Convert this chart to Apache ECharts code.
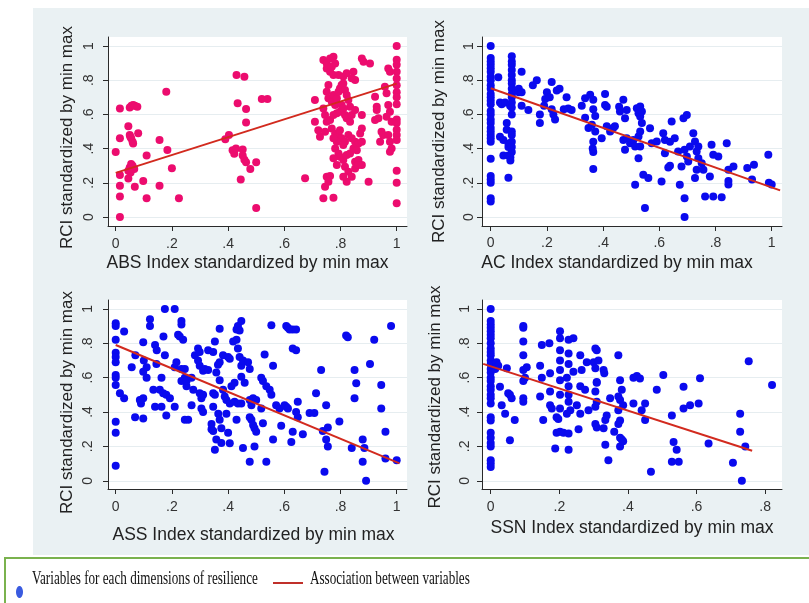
<!DOCTYPE html>
<html><head><meta charset="utf-8">
<script src="https://cdn.jsdelivr.net/npm/echarts@6/dist/echarts.min.js"></script>
<style>html,body{margin:0;padding:0;background:#fff}#c{width:809px;height:603px}</style>
</head><body><div id="c"></div>
<script>
const tickValues = [0, 0.2, 0.4, 0.6, 0.8, 1];
const tickLabels = ['0', '.2', '.4', '.6', '.8', '1'];
const ssnTickValues = [0, 0.2, 0.4, 0.6, 0.8];
const yAxisTitle = 'RCI standardized by min max';
const xTitles = ['ABS Index standardized by min max', 'AC Index standardized by min max',
  'ASS Index standardized by min max', 'SSN Index standardized by min max'];
const legendLabels = ['Variables for each dimensions of resilience', 'Association between variables'];

const absPoints = [
[0,0.38],[0.015,0.635],[0.015,0.46],[0.015,0.245],[0.015,0.183],[0.015,0.12],[0.015,0.0],
[0.045,0.53],[0.05,0.48],[0.055,0.46],[0.06,0.44],[0.062,0.43],[0.052,0.47],[0.08,0.49],
[0.05,0.64],[0.056,0.65],[0.062,0.655],[0.068,0.65],[0.077,0.645],
[0.045,0.27],[0.05,0.29],[0.055,0.31],[0.06,0.3],[0.066,0.28],[0.053,0.26],
[0.045,0.225],[0.068,0.177],[0.098,0.21],[0.11,0.36],[0.11,0.11],[0.156,0.45],[0.156,0.183],[0.18,0.733],[0.184,0.392],[0.2,0.285],[0.225,0.109],
[0.39,0.455],[0.403,0.48],[0.43,0.83],[0.458,0.82],[0.434,0.665],[0.464,0.632],[0.464,0.553],
[0.416,0.39],[0.422,0.37],[0.428,0.4],[0.452,0.395],[0.452,0.36],[0.458,0.335],[0.464,0.32],[0.445,0.22],[0.479,0.28],[0.5,0.32],[0.5,0.053],[0.52,0.69],[0.54,0.69],
[0.739,0.918],[0.751,0.898],[0.763,0.927],[0.775,0.937],[0.781,0.898],[0.751,0.869],[0.763,0.85],[0.775,0.83],[0.769,0.879],
[0.793,0.83],[0.81,0.821],[0.822,0.84],[0.846,0.85],[0.852,0.801],[0.84,0.811],
[0.757,0.772],[0.751,0.733],[0.757,0.694],[0.769,0.674],[0.781,0.655],[0.775,0.713],[0.787,0.694],[0.793,0.733],[0.798,0.752],[0.804,0.772],[0.81,0.781],[0.816,0.743],[0.822,0.713],[0.828,0.684],[0.834,0.645],
[0.739,0.635],[0.745,0.596],[0.751,0.557],[0.763,0.567],[0.775,0.596],[0.787,0.606],[0.798,0.616],[0.804,0.655],[0.81,0.635],[0.816,0.596],[0.822,0.577],[0.834,0.557],[0.84,0.596],[0.852,0.626],
[0.769,0.518],[0.781,0.489],[0.793,0.479],[0.798,0.508],[0.804,0.46],[0.816,0.44],[0.828,0.479],[0.84,0.46],[0.852,0.44],[0.864,0.43],[0.876,0.44],[0.81,0.421],[0.787,0.44],[0.775,0.46],
[0.781,0.401],[0.793,0.372],[0.798,0.352],[0.81,0.333],[0.822,0.362],[0.834,0.372],[0.846,0.401],[0.858,0.391],[0.852,0.323],[0.864,0.333],[0.876,0.304],
[0.775,0.343],[0.787,0.304],[0.816,0.294],[0.828,0.265],[0.84,0.236],[0.822,0.206],[0.81,0.236],[0.852,0.284],[0.864,0.304],
[0.751,0.236],[0.763,0.24],[0.745,0.177],[0.757,0.206],[0.739,0.109],[0.775,0.113],[0.674,0.226],
[0.709,0.684],[0.709,0.557],[0.727,0.469],[0.721,0.508],[0.745,0.499],
[0.876,0.927],[0.882,0.908],[0.905,0.898],[0.876,0.596],[0.876,0.518],[0.87,0.489],[0.9,0.206],
[0.923,0.703],[0.929,0.645],[0.935,0.577],[0.923,0.567],[0.929,0.625],[0.941,0.44],[0.946,0.499],[0.952,0.479],
[0.958,0.762],[0.964,0.723],[0.97,0.655],[0.976,0.616],[0.982,0.557],[0.964,0.586],[0.97,0.869],[0.976,0.85],
[0.97,0.479],[0.976,0.44],[0.982,0.401],[0.976,0.382],
[1,1.0],[1,0.92],[1,0.89],[1,0.85],[1,0.81],[1,0.77],[1,0.73],[1,0.7],[1,0.66],[1,0.57],[1,0.55],[1,0.51],[1,0.48],[1,0.45],[1,0.27],[1,0.2],[1,0.08]
];

const acPoints = [
[0,1.0],[0,0.93],[0,0.91],[0,0.89],[0,0.87],[0,0.85],[0,0.82],[0,0.8],[0,0.77],[0,0.75],[0,0.72],[0,0.7],[0,0.68],[0,0.66],[0,0.62],[0,0.6],[0,0.57],[0,0.55],[0,0.52],[0,0.5],[0,0.48],[0,0.46],[0,0.44],[0,0.34],[0,0.24],[0,0.22],[0,0.2],[0,0.11],[0,0.09],
[0.027,0.817],[0.033,0.67],[0.039,0.66],[0.051,0.67],[0.033,0.47],[0.045,0.45],[0.045,0.36],[0.057,0.51],[0.057,0.55],[0.063,0.43],[0.063,0.41],[0.063,0.36],[0.069,0.43],[0.063,0.23],[0.069,0.65],
[0.075,0.94],[0.075,0.91],[0.075,0.89],[0.075,0.86],[0.075,0.83],[0.075,0.8],[0.075,0.78],[0.075,0.75],[0.075,0.72],[0.075,0.7],[0.075,0.67],[0.075,0.64],[0.075,0.6],[0.075,0.5],[0.075,0.48],[0.075,0.44],[0.075,0.41],[0.075,0.38],[0.07,0.35],[0.07,0.33],
[0.09,0.74],[0.1,0.75],[0.1,0.73],[0.11,0.85],[0.11,0.65],[0.11,0.73],[0.134,0.626],[0.15,0.77],[0.164,0.8],[0.175,0.55],[0.175,0.6],[0.19,0.65],[0.194,0.69],[0.2,0.73],[0.21,0.7],[0.217,0.79],[0.217,0.63],[0.223,0.6],[0.229,0.57],[0.235,0.74],[0.245,0.75],[0.26,0.63],[0.27,0.7],[0.276,0.635],[0.288,0.626],
[0.324,0.65],[0.336,0.695],[0.354,0.715],[0.336,0.58],[0.348,0.52],[0.36,0.54],[0.372,0.5],[0.365,0.63],[0.372,0.59],[0.365,0.685],[0.365,0.38],[0.363,0.4],[0.365,0.28],[0.365,0.44],[0.395,0.46],
[0.407,0.72],[0.413,0.645],[0.407,0.655],[0.413,0.53],[0.425,0.5],[0.436,0.52],[0.442,0.53],[0.457,0.645],[0.46,0.617],[0.472,0.685],[0.478,0.578],[0.484,0.626],[0.478,0.393],[0.472,0.451],[0.484,0.461],[0.496,0.432],[0.508,0.451],[0.514,0.412],[0.514,0.189],
[0.52,0.636],[0.526,0.607],[0.532,0.588],[0.538,0.549],[0.532,0.646],[0.538,0.617],[0.526,0.344],[0.526,0.471],[0.532,0.5],[0.532,0.412],[0.543,0.247],[0.561,0.228],[0.549,0.053],[0.567,0.519],[0.573,0.432],[0.591,0.442],
[0.608,0.208],[0.614,0.49],[0.62,0.451],[0.62,0.373],[0.632,0.29],[0.638,0.3],[0.638,0.44],[0.644,0.558],[0.655,0.461],[0.667,0.383],[0.673,0.189],[0.679,0.296],[0.686,0.578],[0.698,0.597],[0.69,0.11],[0.69,0.0],[0.69,0.393],[0.698,0.354],[0.703,0.325],[0.709,0.412],
[0.721,0.49],[0.727,0.442],[0.727,0.228],[0.733,0.276],[0.739,0.344],[0.733,0.383],[0.739,0.412],[0.751,0.315],[0.757,0.276],[0.763,0.12],[0.78,0.237],[0.786,0.422],[0.792,0.12],[0.792,0.364],[0.81,0.354],[0.822,0.115],
[0.84,0.432],[0.846,0.21],[0.846,0.19],[0.846,0.276],[0.864,0.296],[0.913,0.286],[0.937,0.305],[0.93,0.22],[0.988,0.364],[0.99,0.2],[1.0,0.19]
];

const assPoints = [
[0,0.917],[0,0.9],[0,0.82],[0,0.745],[0,0.72],[0,0.69],[0,0.615],[0,0.6],[0,0.557],[0,0.344],[0,0.28],[0,0.087],
[0.03,0.868],[0.015,0.51],[0.03,0.48],[0.057,0.66],[0.069,0.37],[0.07,0.73],[0.098,0.806],[0.098,0.363],
[0.09,0.45],[0.098,0.48],[0.086,0.47],[0.1,0.7],[0.11,0.66],[0.098,0.635],[0.11,0.6],
[0.122,0.94],[0.122,0.9],[0.134,0.53],[0.14,0.43],[0.14,0.79],[0.146,0.76],[0.145,0.68],
[0.157,0.53],[0.169,0.51],[0.163,0.43],[0.163,0.6],[0.17,0.84],[0.175,0.73],[0.175,1.0],[0.18,0.5],[0.18,0.38],[0.193,0.48],
[0.21,1.0],[0.21,0.66],[0.216,0.69],[0.21,0.43],[0.222,0.85],[0.228,0.84],[0.234,0.93],[0.234,0.91],
[0.234,0.65],[0.246,0.6],[0.246,0.65],[0.234,0.58],[0.252,0.55],[0.252,0.58],[0.24,0.82],[0.246,0.355],[0.258,0.355],
[0.27,0.6],[0.276,0.53],[0.27,0.44],[0.282,0.73],[0.293,0.77],[0.299,0.75],[0.293,0.7],[0.299,0.67],
[0.299,0.51],[0.305,0.48],[0.311,0.5],[0.305,0.42],[0.311,0.4],[0.311,0.64],[0.317,0.65],[0.329,0.645],
[0.329,0.76],[0.347,0.75],[0.341,0.3],[0.341,0.33],[0.347,0.29],[0.347,0.43],[0.347,0.51],[0.353,0.5],
[0.353,0.18],[0.358,0.24],[0.353,0.81],[0.365,0.39],[0.37,0.355],[0.358,0.63],[0.364,0.675],[0.37,0.69],
[0.37,0.885],[0.37,0.585],[0.376,0.22],[0.376,0.305],[0.382,0.73],[0.4,0.72],[0.406,0.71],
[0.382,0.53],[0.388,0.49],[0.394,0.47],[0.406,0.45],[0.394,0.39],[0.4,0.28],[0.406,0.218],
[0.412,0.55],[0.423,0.57],[0.423,0.46],[0.435,0.45],[0.418,0.81],[0.43,0.82],[0.43,0.88],[0.435,0.9],[0.441,0.875],[0.447,0.93],
[0.435,0.77],[0.441,0.72],[0.447,0.605],[0.447,0.67],[0.453,0.7],[0.459,0.57],[0.43,0.355],[0.447,0.45],[0.453,0.19],
[0.471,0.69],[0.477,0.65],[0.477,0.47],[0.483,0.44],[0.489,0.48],[0.5,0.47],[0.477,0.37],[0.483,0.355],[0.489,0.325],[0.494,0.305],[0.5,0.285],[0.477,0.11],[0.494,0.2],
[0.518,0.6],[0.524,0.58],[0.518,0.42],[0.524,0.335],[0.53,0.735],[0.536,0.55],[0.548,0.53],[0.554,0.5],[0.536,0.11],[0.554,0.905],[0.56,0.67],[0.56,0.24],[0.571,0.44],[0.583,0.42],[0.589,0.32],[0.601,0.44],[0.607,0.43],[0.613,0.42],
[0.607,0.9],[0.613,0.89],[0.619,0.88],[0.63,0.88],[0.642,0.88],[0.63,0.77],[0.642,0.76],[0.625,0.225],[0.63,0.285],[0.648,0.46],[0.648,0.37],[0.642,0.4],
[0.666,0.27],[0.69,0.395],[0.707,0.395],[0.713,0.51],[0.731,0.645],[0.737,0.29],[0.743,0.052],[0.749,0.24],[0.755,0.2],[0.749,0.44],[0.755,0.31],
[0.796,0.345],[0.82,0.845],[0.826,0.835],[0.84,0.19],[0.85,0.645],[0.856,0.567],[0.85,0.48],[0.879,0.24],[0.885,0.19],[0.879,0.11],[0.891,0.0],
[0.905,0.68],[0.92,0.82],[0.945,0.557],[0.945,0.42],[0.96,0.285],[0.96,0.13],[0.98,0.9],[1.0,0.12]
];

const ssnPoints = [
[0,1.0],[0,0.93],[0,0.91],[0,0.89],[0,0.87],[0,0.85],[0,0.83],[0,0.8],[0,0.77],[0,0.75],[0,0.73],[0,0.7],[0,0.68],[0,0.65],[0,0.63],[0,0.6],[0,0.58],[0,0.55],[0,0.53],[0,0.5],[0,0.48],[0,0.45],[0,0.37],[0,0.35],[0,0.28],[0,0.25],[0,0.22],[0,0.2],[0,0.12],[0,0.1],[0,0.08],
[0.017,0.69],[0.022,0.67],[0.013,0.65],[0.027,0.547],[0.032,0.44],[0.042,0.39],[0.047,0.655],[0.056,0.5],[0.051,0.51],[0.061,0.48],[0.056,0.236],[0.07,0.353],
[0.095,0.9],[0.095,0.89],[0.095,0.81],[0.095,0.73],[0.095,0.645],[0.1,0.6],[0.095,0.58],[0.095,0.48],[0.095,0.46],[0.105,0.66],
[0.144,0.67],[0.144,0.49],[0.149,0.79],[0.149,0.6],[0.153,0.353],[0.171,0.8],[0.173,0.625],[0.173,0.52],[0.173,0.44],[0.178,0.42],[0.188,0.188],[0.192,0.37],[0.197,0.36],[0.192,0.28],[0.202,0.285],
[0.202,0.87],[0.202,0.83],[0.202,0.76],[0.202,0.7],[0.202,0.645],[0.202,0.585],[0.202,0.5],[0.202,0.42],[0.212,0.28],
[0.227,0.82],[0.227,0.74],[0.227,0.68],[0.222,0.6],[0.227,0.55],[0.227,0.5],[0.227,0.46],[0.232,0.41],[0.222,0.39],[0.227,0.18],[0.227,0.275],
[0.241,0.83],[0.241,0.635],[0.251,0.44],[0.256,0.3],[0.261,0.73],[0.265,0.645],[0.261,0.55],[0.261,0.39],[0.275,0.53],[0.28,0.69],[0.285,0.41],
[0.305,0.77],[0.309,0.76],[0.3,0.69],[0.305,0.655],[0.309,0.575],[0.305,0.52],[0.309,0.46],[0.305,0.43],[0.305,0.33],[0.309,0.31],[0.314,0.7],[0.309,0.57],
[0.329,0.645],[0.331,0.625],[0.329,0.305],[0.334,0.353],[0.334,0.21],[0.338,0.38],[0.343,0.12],[0.348,0.48],[0.36,0.285],
[0.372,0.73],[0.377,0.585],[0.372,0.49],[0.377,0.47],[0.372,0.41],[0.377,0.35],[0.372,0.33],[0.377,0.25],[0.377,0.2],[0.382,0.53],[0.386,0.44],[0.382,0.24],[0.386,0.23],
[0.416,0.45],[0.416,0.6],[0.426,0.61],[0.435,0.595],[0.44,0.41],[0.45,0.45],[0.45,0.353],[0.467,0.052],[0.484,0.53],[0.503,0.615],[0.528,0.38],[0.533,0.226],[0.542,0.18],[0.528,0.11],[0.548,0.11],[0.562,0.42],[0.581,0.44],[0.562,0.547],[0.606,0.45],[0.61,0.597],[0.635,0.217],[0.706,0.105],[0.727,0.39],[0.727,0.285],[0.732,0.0],[0.742,0.2],[0.752,0.695],[0.82,0.557]
];

const absFit = [[0, 0.258], [1, 0.78]];
const acFit = [[0, 0.753], [1.03, 0.156]];
const assFit = [[0, 0.79], [1.01, 0.101]];
const ssnFit = [[-0.022, 0.68], [0.762, 0.175]];

const FONT = '"Liberation Sans", Arial, sans-serif';
const pink = '#EC0C6E', blue = '#0A0AEE', red = '#D22A1E';

function fmt(v) {
  const i = tickValues.findIndex(t => Math.abs(t - v) < 1e-6);
  return i >= 0 ? tickLabels[i] : '';
}

const panels = [
  {grid: {left: 108, top: 37, width: 299, height: 189}, x: [-0.0274, 1.0367], y: [-0.0526, 1.0526], xt: tickValues,
   pts: absPoints, fit: absFit, color: pink, xm: 11, xg: 28, xp: 20, ym: 12, yg: 32, yp: 12},
  {grid: {left: 482, top: 37, width: 300, height: 189}, x: [-0.031, 1.0367], y: [-0.0526, 1.0526], xt: tickValues,
   pts: acPoints, fit: acFit, color: blue, xm: 10, xg: 28, xp: 30, ym: 6, yg: 34, yp: 0},
  {grid: {left: 108, top: 300, width: 299, height: 189}, x: [-0.0274, 1.0367], y: [-0.048, 1.052], xt: tickValues,
   pts: assPoints, fit: assFit, color: blue, xm: 11, xg: 37, xp: 8, ym: 13, yg: 32, yp: 16},
  {grid: {left: 482, top: 300, width: 300, height: 189}, x: [-0.0254, 0.849], y: [-0.048, 1.052], xt: ssnTickValues,
   pts: ssnPoints, fit: ssnFit, color: blue, xm: 11, xg: 30, xp: 0, ym: 10, yg: 38, yp: 5}
];

const axisLine = {show: true, onZero: false, lineStyle: {color: '#2a2a2a', width: 1}};
const option = {
  animation: false,
  backgroundColor: '#ffffff',
  textStyle: {fontFamily: FONT},
  grid: panels.map(p => Object.assign({show: true, backgroundColor: '#ffffff', borderWidth: 0}, p.grid)),
  xAxis: panels.map((p, i) => ({
    type: 'value', gridIndex: i, min: p.x[0], max: p.x[1],
    axisLine: axisLine,
    axisTick: {show: true, length: 5, customValues: p.xt, lineStyle: {color: '#2a2a2a'}},
    axisLabel: {customValues: p.xt, formatter: fmt, fontSize: 14, color: '#333', margin: p.xm, fontFamily: FONT},
    splitLine: {show: false},
    name: xTitles[i], nameLocation: 'middle', nameGap: p.xg,
    nameTextStyle: {fontSize: 17.5, color: '#222', fontFamily: FONT, padding: [0, p.xp, 0, 0]}
  })),
  yAxis: panels.map((p, i) => ({
    type: 'value', gridIndex: i, min: p.y[0], max: p.y[1],
    axisLine: axisLine,
    axisTick: {show: true, length: 5, customValues: tickValues, lineStyle: {color: '#2a2a2a'}},
    axisLabel: {customValues: tickValues, formatter: fmt, fontSize: 14, color: '#333', margin: p.ym, rotate: 90, fontFamily: FONT},
    splitLine: {show: true, lineStyle: {color: '#E6EDF0', width: 1}},
    name: yAxisTitle, nameLocation: 'middle', nameGap: p.yg,
    nameTextStyle: {fontSize: 17, color: '#222', fontFamily: FONT, padding: [0, p.yp, 0, 0]}
  })),
  series: panels.flatMap((p, i) => [
    {type: 'scatter', xAxisIndex: i, yAxisIndex: i, data: p.pts, symbolSize: 8,
     itemStyle: {color: p.color, opacity: 1}, z: 3, silent: true},
    {type: 'line', xAxisIndex: i, yAxisIndex: i, data: p.fit, symbol: 'none',
     lineStyle: {color: red, width: 2}, z: 4, silent: true}
  ]),
  graphic: {elements: [
    {type: 'rect', z: -100, shape: {x: 33, y: 8, width: 776, height: 547}, style: {fill: '#EAF1F3'}},
    {type: 'rect', z: -50, shape: {x: 5, y: 558, width: 830, height: 60}, style: {fill: '#ffffff', stroke: '#7AB24E', lineWidth: 2}},
    {type: 'ellipse', shape: {cx: 19.5, cy: 592, rx: 3.5, ry: 6}, style: {fill: '#3A5BE0'}},
    {type: 'line', shape: {x1: 273, y1: 583, x2: 303, y2: 583}, style: {stroke: '#C0302A', lineWidth: 2}},
    {type: 'text', x: 32, y: 579, scaleX: 0.73, style: {text: legendLabels[0], font: '18px "Liberation Serif", "Times New Roman", serif', fill: '#111', verticalAlign: 'middle'}},
    {type: 'text', x: 310, y: 579, scaleX: 0.73, style: {text: legendLabels[1], font: '18px "Liberation Serif", "Times New Roman", serif', fill: '#111', verticalAlign: 'middle'}}
  ]}
};
const chart = echarts.init(document.getElementById('c'), null, {renderer: 'canvas'});
chart.setOption(option);
</script></body></html>
